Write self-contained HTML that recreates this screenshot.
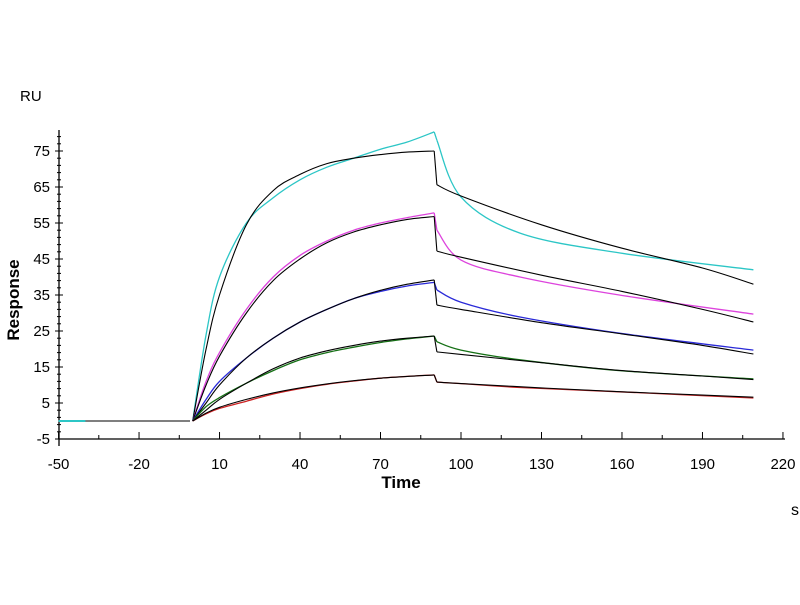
<!DOCTYPE html>
<html><head><meta charset="utf-8"><style>
body{margin:0;background:#fff;}
svg text{font-family:"Liberation Sans",Arial,sans-serif;}
</style></head><body>
<svg id="chart" width="800" height="600" xmlns="http://www.w3.org/2000/svg">
<text x="20" y="101" font-size="15">RU</text>
<text transform="translate(19,300) rotate(-90)" text-anchor="middle" font-size="17" font-weight="bold">Response</text>
<text x="401" y="488" text-anchor="middle" font-size="17" font-weight="bold">Time</text>
<text x="795" y="515" text-anchor="middle" font-size="16">s</text>
<g id="axes"></g><g id="series"></g>
</svg>
<script>
const xTicks=[-50,-20,10,40,70,100,130,160,190,220];
const yTicks=[-5,5,15,25,35,45,55,65,75];
const assocT=[0,5,10,20,30,40,50,60,70,80,90];
const dissT=[91,100,122,159,209];
const dissFitT=[91,100,130,160,190,209];
const cyanA=[0,24,40,55,62,67,70.5,73,75.5,77.5,80.3];
const cyanD=[78,62.2,52.2,46.7,42];
const cyanFitA=[0,20,35,54.5,64,68.5,71.5,73,74,74.7,75];
const cyanFitD=[65.6,62.5,54.5,48,42.5,38];
const magA=[0,11,19,31,40,46,50,53,55,56.5,57.8];
const magD=[53,44.7,40,35,29.7];
const magFitA=[0,10,18,30,39,45,49.5,52.5,54.5,56,56.8];
const magFitD=[47.2,45.5,40.5,36,31,27.5];
const blueA=[0,6,11,17.5,23,27.5,31,34,36,37.5,38.5];
const blueD=[36.4,33,28.9,24.4,19.7];
const blueFitA=[0,5,10,17.5,23,27.5,31,34,36.3,38,39.2];
const blueFitD=[32.2,31,27.3,24.2,21,18.6];
const greenA=[0,4,6.5,10.5,14,17,19,20.5,21.8,22.8,23.6];
const greenD=[22,19.7,17,14,11.7];
const greenFitA=[0,3,6,10.5,14.5,17.5,19.5,21,22.2,23,23.6];
const greenFitD=[19.2,18.5,16.2,14,12.5,11.5];
const redA=[0,2,3.5,5.5,7.5,9,10.2,11.1,11.9,12.4,12.8];
const redD=[10.8,10.4,9.3,8.1,6.4];
const redFitA=[0,2.2,3.8,6,7.8,9.2,10.3,11.2,11.9,12.4,12.8];
const redFitD=[10.8,10.4,9.2,8.1,7.2,6.6];
const baseT=[-50,-1];
const baseV=[0,0];

const NS="http://www.w3.org/2000/svg";
const X=t=>461+(t-100)*2.683;
const Y=v=>439-(v+5)*3.6;
const axes=document.getElementById('axes');
const ser=document.getElementById('series');
function mk(tag,attrs,parent){const e=document.createElementNS(NS,tag);for(const k in attrs)e.setAttribute(k,attrs[k]);parent.appendChild(e);return e;}
let a=mk('line',{x1:59,y1:439,x2:785,y2:439,stroke:'#000','stroke-width':1.3},axes);


a=mk('line',{x1:59,y1:130,x2:59,y2:446,stroke:'#000','stroke-width':1.3},axes);


for(let t=-50;t<=220;t+=15){const big=(t+50)%30===0;mk('line',{x1:X(t),y1:439,x2:X(t),y2:439-(big?7:4),stroke:'#000'},axes);}
xTicks.forEach(t=>{const e=mk('text',{x:X(t),y:469,'text-anchor':'middle','font-size':15},axes);e.textContent=t;

});
for(let v=-5;v<=79;v+=2){const big=(v+5)%10===0;mk('line',{x1:big?55:57,y1:Y(v),x2:big?63:61,y2:Y(v),stroke:'#000'},axes);}
yTicks.forEach(v=>{const e=mk('text',{x:50,y:Y(v)+5,'text-anchor':'end','font-size':15},axes);e.textContent=v;

});
function smooth(P){let d='M'+P[0][0].toFixed(1)+','+P[0][1].toFixed(1);
for(let i=0;i<P.length-1;i++){const p0=P[i-1]||P[i],p1=P[i],p2=P[i+1],p3=P[i+2]||p2;
const c1=[p1[0]+(p2[0]-p0[0])/6,p1[1]+(p2[1]-p0[1])/6],c2=[p2[0]-(p3[0]-p1[0])/6,p2[1]-(p3[1]-p1[1])/6];
d+=' C'+c1.map(n=>n.toFixed(1))+' '+c2.map(n=>n.toFixed(1))+' '+p2[0].toFixed(1)+','+p2[1].toFixed(1);}
return d;}
function curve(ts,vs,color,name,w){const P=ts.map((t,i)=>[X(t),Y(vs[i])]);
const p=mk('path',{d:smooth(P),fill:'none',stroke:color,'stroke-width':w||1.3,'stroke-linejoin':'round'},ser);

}
function seg(ts,vs,color,name,w){const d='M'+ts.map((t,i)=>X(t).toFixed(1)+','+Y(vs[i]).toFixed(1)).join(' L');
const p=mk('path',{d:d,fill:'none',stroke:color,'stroke-width':w||1.3},ser);

}
const sets=[['cyan','#2cc6c6',cyanA,cyanD,cyanFitA,cyanFitD],['magenta','#dd44dd',magA,magD,magFitA,magFitD],['blue','#2a2ad8',blueA,blueD,blueFitA,blueFitD],['green','#157015',greenA,greenD,greenFitA,greenFitD],['red','#cc2222',redA,redD,redFitA,redFitD]];
seg(baseT,baseV,'#333','baseline');
seg([-50,-40],[0,0],'#2cc6c6','baseline-cyan-start',2);
sets.forEach(s=>{
 curve(assocT,s[2],s[1],s[0]+'-association');
 seg([90,91],[s[2][10],s[3][0]],s[1],s[0]+'-drop');
 curve(dissT,s[3],s[1],s[0]+'-dissociation');
 curve(assocT,s[4],'#000',s[0]+'-fit-association',1.1);
 seg([90,91],[s[4][10],s[5][0]],'#000',s[0]+'-fit-drop',1.1);
 curve(dissFitT,s[5],'#000',s[0]+'-fit-dissociation',1.1);
});
</script>
</body></html>
